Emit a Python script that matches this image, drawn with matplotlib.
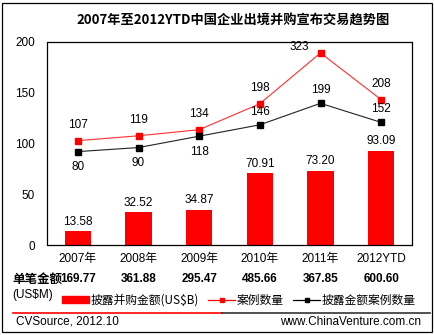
import matplotlib
matplotlib.use("Agg")
from matplotlib import pyplot as plt
from matplotlib.lines import Line2D
from matplotlib.patches import Patch, Rectangle

plt.rcParams['font.family'] = ['Liberation Sans', 'Noto Sans CJK SC', 'DejaVu Sans']

years = ["2007年", "2008年", "2009年", "2010年", "2011年", "2012YTD"]
amount = [13.58, 32.52, 34.87, 70.91, 73.20, 93.09]          # US$B
deals = [107, 119, 134, 198, 323, 208]
disclosed_deals = [80, 90, 118, 146, 199, 152]
per_deal = [169.77, 361.88, 295.47, 485.66, 367.85, 600.60]   # US$M

RED = "#ff0000"
W, H = 435, 335

fig = plt.figure(figsize=(W / 100, H / 100), dpi=100)
ax = fig.add_axes([47.5 / W, 1 - 245 / H, 364 / W, 203 / H])
x = list(range(len(years)))

bars = ax.bar(x, amount, width=0.43, color=RED, zorder=2)
for xi, v in zip(x, amount):
    ax.annotate(f"{v:.2f}", (xi, v), xytext=(0, 2.5), textcoords="offset points",
                ha="center", va="bottom", fontsize=8.5)

ax.set_xlim(-0.5, len(years) - 0.5)
ax.set_ylim(0, 200)
ax.set_yticks([0, 50, 100, 150, 200])
ax.set_xticks(x)
ax.set_xticklabels(years)
ax.tick_params(length=0, labelsize=8.5)
ax.tick_params(axis="y", pad=9)
ax.tick_params(axis="x", pad=6)
for s in ax.spines.values():
    s.set_linewidth(0.9)

# deal counts on a hidden secondary scale
ax2 = ax.twinx()
ax2.set_ylim(-150, 350)
ax2.axis("off")
ax2.plot(x, deals, color="#ff3030", lw=0.8, marker="s", ms=3.8, mfc=RED, mec=RED)
ax2.plot(x, disclosed_deals, color="#222222", lw=0.8, marker="s", ms=3.8,
         mfc="black", mec="black")

for xi, v in zip(x, deals):
    if v == max(deals):
        # peak label sits up and to the left of its marker
        ax2.text(xi - 0.35, v + 1, str(v), ha="center", va="bottom", fontsize=8.5)
    else:
        ax2.annotate(str(v), (xi, v), xytext=(0, 7), textcoords="offset points",
                     ha="center", va="bottom", fontsize=8.5)
for xi, v in zip(x, disclosed_deals):
    if xi < 3:
        off, va = (0, -7), "top"
    else:
        off, va = (0, 5), "bottom"
    ax2.annotate(str(v), (xi, v), xytext=off, textcoords="offset points",
                 ha="center", va=va, fontsize=8.5)

fig.text(233 / W, 1 - 21 / H, "2007年至2012YTD中国企业出境并购宣布交易趋势图",
         ha="center", va="center", fontsize=9.5, fontweight="bold",
         family=["Noto Sans CJK SC"])

# average deal size row
fig.text(12 / W, 1 - 279 / H, "单笔金额", ha="left", va="center",
         fontsize=9, fontweight="bold", family=["Noto Sans CJK SC"])
fig.text(12 / W, 1 - 295 / H, "(US$M)", ha="left", va="center", fontsize=8.5)
for xi, v in zip(x, per_deal):
    ax.text(xi, -34 / 203, f"{v:.2f}", transform=ax.get_xaxis_transform(),
            ha="center", va="center", fontsize=8.5, fontweight="bold")

handles = [
    Patch(color=RED),
    Line2D([], [], color=RED, lw=0.9, marker="s", ms=3.5),
    Line2D([], [], color="black", lw=0.9, marker="s", ms=3.5),
]
labels = ["披露并购金额(US$B)", "案例数量", "披露金额案例数量"]
fig.legend(handles, labels, loc="center left", bbox_to_anchor=(62 / W, 1 - 300 / H),
           ncol=3, frameon=False, handlelength=2.3, handleheight=0.5,
           handletextpad=0.1, columnspacing=0.8, borderaxespad=0, borderpad=0,
           prop={"family": ["Noto Sans CJK SC"], "size": 8.5})

# footer rule and source text
fig.add_artist(Line2D([13 / W, 222 / W], [1 - 313 / H] * 2, color=RED, lw=1.2))
fig.add_artist(Line2D([222 / W, 430 / W], [1 - 313 / H] * 2, color="#333333", lw=1.2))
fig.text(16 / W, 1 - 322 / H, "CVSource, 2012.10", ha="left", va="center", fontsize=8.5)
fig.text(421 / W, 1 - 322 / H, "www.ChinaVenture.com.cn", ha="right", va="center",
         fontsize=8.5)

fig.add_artist(Rectangle((2 / W, 3 / H), 430 / W, 329 / H, fill=False,
                         edgecolor="black", lw=0.9, transform=fig.transFigure))

fig.savefig("out.png", dpi=100)
